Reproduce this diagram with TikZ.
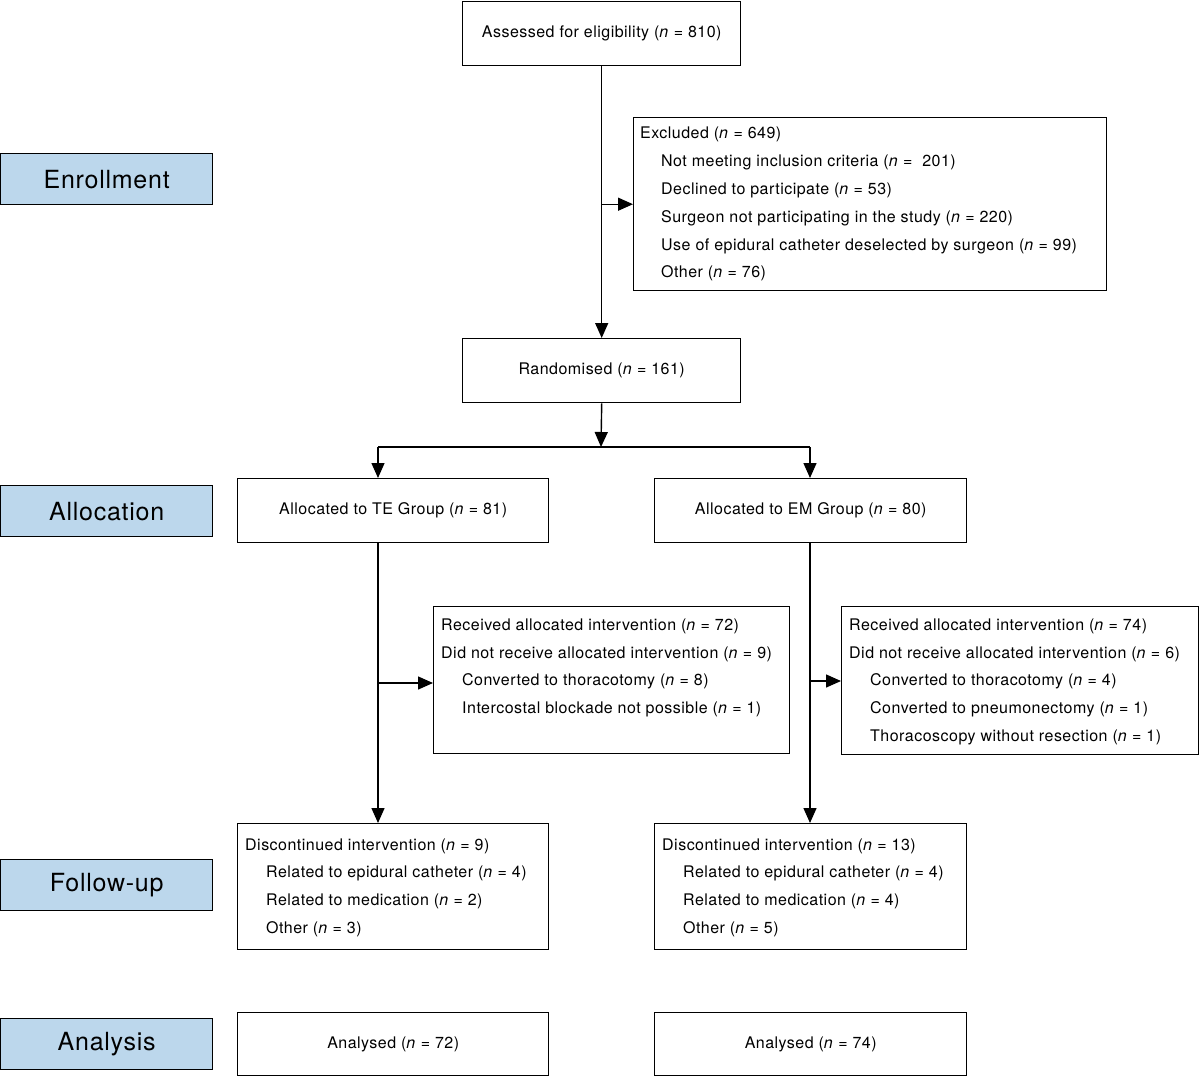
\documentclass[tikz,border=0pt]{standalone}
\usepackage{fontspec}
\setmainfont{TeX Gyre Heros}
\newfontfamily\spacedfont[LetterSpace=3]{TeX Gyre Heros}
\usetikzlibrary{arrows.meta}
\definecolor{stageblue}{RGB}{188,215,236}
\newcommand\nn{\textit{n}}
\begin{document}
\begin{tikzpicture}[x=1pt,y=-1pt,
  box/.style={draw, line width=1.4pt, rectangle, inner sep=0, anchor=north west},
  stage/.style={draw, line width=1.4pt, fill=stageblue, rectangle, inner sep=0, anchor=north west,
     minimum width=212pt, minimum height=51pt},
  stagetxt/.style={inner sep=0, font=\spacedfont\fontsize{25}{30}\selectfont},
  txt/.style={anchor=west, inner sep=0, font=\spacedfont\fontsize{16}{19}\selectfont, text height=11.5pt, text depth=3pt},
  ctxt/.style={inner sep=0, font=\spacedfont\fontsize{16}{19}\selectfont, text height=11.5pt, text depth=3pt},
  arr/.style={line width=1.4pt, -{Triangle[length=15pt,width=13pt]}},
  ln/.style={line width=1.4pt}]
\useasboundingbox (0,0) rectangle (1200,1077);

% stage labels
\node[stage] (sEnr) at (0,153) {};
\node[stagetxt] (sEnrT) at (sEnr.center) {Enrollment};
\node[stage] (sAll) at (0,485) {};
\node[stagetxt] (sAllT) at (sAll.center) {Allocation};
\node[stage] (sFol) at (0,859) {};
\node[stagetxt] (sFolT) at (sFol.center) {Follow-up};
\node[stage] (sAna) at (0,1018) {};
\node[stagetxt] (sAnaT) at (sAna.center) {Analysis};

% top
\node[box, minimum width=278pt, minimum height=64pt] (assess) at (462,1) {};
\node[ctxt] (assessT) at (assess.center) {Assessed for eligibility (\nn{} = 810)};

\node[box, minimum width=473pt, minimum height=173pt] (excl) at (633,117) {};
\node[txt] (ex1) at (640,134) {Excluded (\nn{} = 649)};
\node[txt] (ex2) at (661,162) {Not meeting inclusion criteria (\nn{} =\ \ 201)};
\node[txt] (ex3) at (661,190) {Declined to participate (\nn{} = 53)};
\node[txt] (ex4) at (661,218) {Surgeon not participating in the study (\nn{} = 220)};
\node[txt] (ex5) at (661,246) {Use of epidural catheter deselected by surgeon (\nn{} = 99)};
\node[txt] (ex6) at (661,273) {Other (\nn{} = 76)};

\node[box, minimum width=278pt, minimum height=64pt] (rand) at (462,338) {};
\node[ctxt] (randT) at (rand.center) {Randomised (\nn{} = 161)};

% allocation
\node[box, minimum width=311pt, minimum height=64pt] (te) at (237,478) {};
\node[ctxt] (teT) at (te.center) {Allocated to TE Group (\nn{} = 81)};
\node[box, minimum width=312pt, minimum height=64pt] (em) at (654,478) {};
\node[ctxt] (emT) at (em.center) {Allocated to EM Group (\nn{} = 80)};

\node[box, minimum width=356pt, minimum height=147pt] (recTE) at (433,606) {};
\node[txt] (rt1) at (441,626) {Received allocated intervention (\nn{} = 72)};
\node[txt] (rt2) at (441,654) {Did not receive allocated intervention (\nn{} = 9)};
\node[txt] (rt3) at (462,681) {Converted to thoracotomy (\nn{} = 8)};
\node[txt] (rt4) at (462,709) {Intercostal blockade not possible (\nn{} = 1)};

\node[box, minimum width=357pt, minimum height=148pt] (recEM) at (841,606) {};
\node[txt] (re1) at (849,626) {Received allocated intervention (\nn{} = 74)};
\node[txt] (re2) at (849,654) {Did not receive allocated intervention (\nn{} = 6)};
\node[txt] (re3) at (870,681) {Converted to thoracotomy (\nn{} = 4)};
\node[txt] (re4) at (870,709) {Converted to pneumonectomy (\nn{} = 1)};
\node[txt] (re5) at (870,737) {Thoracoscopy without resection (\nn{} = 1)};

% follow-up
\node[box, minimum width=311pt, minimum height=126pt] (discTE) at (237,823) {};
\node[txt] (dt1) at (245,846) {Discontinued intervention (\nn{} = 9)};
\node[txt] (dt2) at (266,873) {Related to epidural catheter (\nn{} = 4)};
\node[txt] (dt3) at (266,901) {Related to medication (\nn{} = 2)};
\node[txt] (dt4) at (266,929) {Other (\nn{} = 3)};

\node[box, minimum width=312pt, minimum height=126pt] (discEM) at (654,823) {};
\node[txt] (de1) at (662,846) {Discontinued intervention (\nn{} = 13)};
\node[txt] (de2) at (683,873) {Related to epidural catheter (\nn{} = 4)};
\node[txt] (de3) at (683,901) {Related to medication (\nn{} = 4)};
\node[txt] (de4) at (683,929) {Other (\nn{} = 5)};

% analysis
\node[box, minimum width=311pt, minimum height=63pt] (anTE) at (237,1012) {};
\node[ctxt] (anTET) at (anTE.center) {Analysed (\nn{} = 72)};
\node[box, minimum width=312pt, minimum height=63pt] (anEM) at (654,1012) {};
\node[ctxt] (anEMT) at (anEM.center) {Analysed (\nn{} = 74)};

% connectors
\coordinate (split) at (601,447);
\coordinate (teX) at (378,0);
\coordinate (emX) at (810,0);
\coordinate (teBr) at (378,683);
\coordinate (emBr) at (810,681);

\draw[arr] (assess.south) -- (rand.north);
\draw[arr] (assess.south |- excl.west) -- (excl.west);
\draw[arr] (rand.south) -- (split);
\draw[ln] (teX |- split) -- (emX |- split);
\draw[arr] (teX |- split) -- (teX |- te.north);
\draw[arr] (emX |- split) -- (emX |- em.north);
\draw[arr] (teX |- te.south) -- (teX |- discTE.north);
\draw[arr] (teBr) -- (teBr -| recTE.west);
\draw[arr] (emX |- em.south) -- (emX |- discEM.north);
\draw[arr] (emBr) -- (emBr -| recEM.west);
\end{tikzpicture}
\end{document}
